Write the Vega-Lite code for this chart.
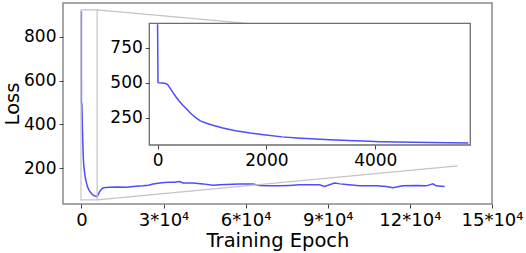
{
  "$schema": "https://vega.github.io/schema/vega-lite/v6.json",
  "width": 429,
  "height": 201,
  "autosize": {"type": "none"},
  "padding": {"left": 63, "top": 3, "right": 34, "bottom": 49},
  "background": "white",
  "config": {
    "view": {"stroke": "#8a8a8a", "strokeWidth": 1.5},
    "axis": {
      "grid": false,
      "domain": false,
      "labelFont": "DejaVu Sans",
      "titleFont": "DejaVu Sans",
      "labelColor": "#000000",
      "titleColor": "#000000",
      "titleFontWeight": "normal",
      "tickColor": "#444444",
      "tickSize": 4,
      "tickWidth": 1,
      "labelPadding": 3,
      "labelOverlap": false,
      "labelFlush": false,
      "labelBound": false
    }
  },
  "datasets": {
    "loss": [
      {"epoch": 0, "loss": 917},
      {"epoch": 8, "loss": 500},
      {"epoch": 80, "loss": 497},
      {"epoch": 150, "loss": 494},
      {"epoch": 190, "loss": 485},
      {"epoch": 244, "loss": 452},
      {"epoch": 300, "loss": 420},
      {"epoch": 336, "loss": 400},
      {"epoch": 397, "loss": 369},
      {"epoch": 460, "loss": 340},
      {"epoch": 520, "loss": 317},
      {"epoch": 580, "loss": 292},
      {"epoch": 643, "loss": 269},
      {"epoch": 700, "loss": 250},
      {"epoch": 785, "loss": 227},
      {"epoch": 900, "loss": 210},
      {"epoch": 1000, "loss": 198},
      {"epoch": 1200, "loss": 176},
      {"epoch": 1430, "loss": 156},
      {"epoch": 1700, "loss": 140},
      {"epoch": 1950, "loss": 128},
      {"epoch": 2286, "loss": 113},
      {"epoch": 2562, "loss": 105},
      {"epoch": 2900, "loss": 97},
      {"epoch": 3168, "loss": 92},
      {"epoch": 3500, "loss": 87},
      {"epoch": 3779, "loss": 83},
      {"epoch": 4100, "loss": 79},
      {"epoch": 4390, "loss": 76},
      {"epoch": 4700, "loss": 74},
      {"epoch": 5004, "loss": 72},
      {"epoch": 5350, "loss": 71},
      {"epoch": 5709, "loss": 70},
      {"epoch": 6200, "loss": 80},
      {"epoch": 6680, "loss": 93},
      {"epoch": 7300, "loss": 103},
      {"epoch": 7900, "loss": 109},
      {"epoch": 9000, "loss": 112},
      {"epoch": 10330, "loss": 113},
      {"epoch": 13000, "loss": 114},
      {"epoch": 16430, "loss": 113},
      {"epoch": 19000, "loss": 116},
      {"epoch": 22500, "loss": 119},
      {"epoch": 24500, "loss": 122},
      {"epoch": 26150, "loss": 127},
      {"epoch": 28600, "loss": 132},
      {"epoch": 30500, "loss": 134},
      {"epoch": 32250, "loss": 136},
      {"epoch": 34000, "loss": 135},
      {"epoch": 35900, "loss": 139},
      {"epoch": 37100, "loss": 132},
      {"epoch": 40750, "loss": 132},
      {"epoch": 44400, "loss": 128},
      {"epoch": 48060, "loss": 122},
      {"epoch": 50500, "loss": 124},
      {"epoch": 52950, "loss": 125},
      {"epoch": 57800, "loss": 127},
      {"epoch": 62700, "loss": 127},
      {"epoch": 65100, "loss": 121},
      {"epoch": 68000, "loss": 120},
      {"epoch": 72400, "loss": 119},
      {"epoch": 76000, "loss": 121},
      {"epoch": 79700, "loss": 124},
      {"epoch": 87000, "loss": 124},
      {"epoch": 88850, "loss": 116},
      {"epoch": 92500, "loss": 132},
      {"epoch": 94500, "loss": 128},
      {"epoch": 96800, "loss": 125},
      {"epoch": 101600, "loss": 119},
      {"epoch": 107700, "loss": 119},
      {"epoch": 111400, "loss": 116},
      {"epoch": 113800, "loss": 110},
      {"epoch": 117400, "loss": 119},
      {"epoch": 122300, "loss": 121},
      {"epoch": 126000, "loss": 119},
      {"epoch": 128400, "loss": 128},
      {"epoch": 129600, "loss": 119},
      {"epoch": 132700, "loss": 116}
    ]
  },
  "layer": [
    {
      "layer": [
        {
          "data": {"name": "loss"},
          "mark": {"type": "line", "stroke": "#4d4dff", "strokeWidth": 1.5},
          "encoding": {
            "x": {
              "field": "epoch", "type": "quantitative",
              "scale": {"domain": [-6720, 150000], "nice": false, "zero": false},
              "axis": {
                "orient": "bottom",
                "values": [0, 30000, 60000, 90000, 120000, 150000],
                "labelExpr": "datum.value == 0 ? '0' : format(datum.value / 10000, 'd') + '*10⁴'",
                "labelFontSize": 18,
                "title": "Training Epoch",
                "titleFontSize": 19.5,
                "titlePadding": 2
              }
            },
            "y": {
              "field": "loss", "type": "quantitative",
              "scale": {"domain": [36, 955], "nice": false, "zero": false},
              "axis": {
                "orient": "left",
                "values": [200, 400, 600, 800],
                "labelFontSize": 17,
                "title": "Loss",
                "titleFontSize": 19.5,
                "titlePadding": 1
              }
            }
          }
        },
        {
          "data": {"values": [{}]},
          "mark": {"type": "rect", "fill": null, "fillOpacity": 0, "stroke": "#c4c4c4", "strokeWidth": 1.2},
          "encoding": {
            "x": {"datum": -152, "type": "quantitative", "scale": {"domain": [-6720, 150000], "nice": false, "zero": false}, "title": "Training Epoch"},
            "x2": {"datum": 5746},
            "y": {"datum": 55, "type": "quantitative", "scale": {"domain": [36, 955], "nice": false, "zero": false}, "title": "Loss"},
            "y2": {"datum": 924}
          }
        },
        {
          "data": {"values": [{}]},
          "mark": {"type": "rule", "stroke": "#c4c4c4", "strokeWidth": 1.2},
          "encoding": {
            "x": {"datum": 5746, "type": "quantitative", "scale": {"domain": [-6720, 150000], "nice": false, "zero": false}, "title": "Training Epoch"},
            "x2": {"datum": 79720},
            "y": {"datum": 924, "type": "quantitative", "scale": {"domain": [36, 955], "nice": false, "zero": false}, "title": "Loss"},
            "y2": {"datum": 840}
          }
        },
        {
          "data": {"values": [{}]},
          "mark": {"type": "rule", "stroke": "#c4c4c4", "strokeWidth": 1.2},
          "encoding": {
            "x": {"datum": 5746, "type": "quantitative", "scale": {"domain": [-6720, 150000], "nice": false, "zero": false}, "title": "Training Epoch"},
            "x2": {"datum": 137500},
            "y": {"datum": 55, "type": "quantitative", "scale": {"domain": [36, 955], "nice": false, "zero": false}, "title": "Loss"},
            "y2": {"datum": 210}
          }
        }
      ]
    },
    {
      "layer": [
        {
          "data": {"values": [{}]},
          "mark": {"type": "rect", "fill": "white", "stroke": "#6e6e6e", "strokeWidth": 1.3},
          "encoding": {
            "x": {
              "datum": -152, "type": "quantitative",
              "scale": {"domain": [-152, 5746], "range": [86.3, 407.3], "nice": false, "zero": false},
              "axis": {"orient": "bottom", "offset": -59, "values": [0, 2000, 4000], "format": "d", "labelFontSize": 17, "title": null, "zindex": 1}
            },
            "x2": {"datum": 5746},
            "y": {
              "datum": 55, "type": "quantitative",
              "scale": {"domain": [55, 924], "range": [142, 20.3], "nice": false, "zero": false},
              "axis": {"orient": "left", "offset": -86.3, "values": [250, 500, 750], "labelFontSize": 17, "title": null, "zindex": 1}
            },
            "y2": {"datum": 924}
          }
        },
        {
          "data": {"name": "loss"},
          "transform": [{"filter": "datum.epoch <= 5750"}],
          "mark": {"type": "line", "stroke": "#4d4dff", "strokeWidth": 1.5},
          "encoding": {
            "x": {
              "field": "epoch", "type": "quantitative",
              "scale": {"domain": [-152, 5746], "range": [86.3, 407.3], "nice": false, "zero": false},
              "axis": {"orient": "bottom", "offset": -59, "values": [0, 2000, 4000], "format": "d", "labelFontSize": 17, "title": null, "zindex": 1}
            },
            "y": {
              "field": "loss", "type": "quantitative",
              "scale": {"domain": [55, 924], "range": [142, 20.3], "nice": false, "zero": false},
              "axis": {"orient": "left", "offset": -86.3, "values": [250, 500, 750], "labelFontSize": 17, "title": null, "zindex": 1}
            }
          }
        }
      ]
    }
  ],
  "resolve": {"scale": {"x": "independent", "y": "independent"}}
}
